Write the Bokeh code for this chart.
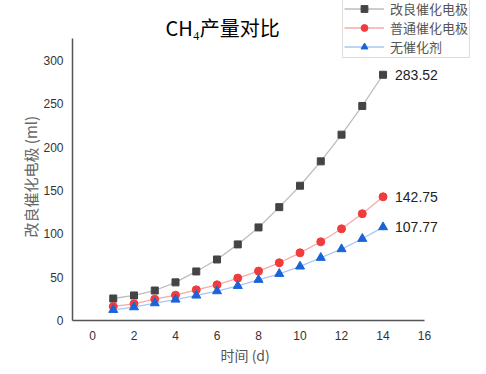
from bokeh.plotting import figure
from bokeh.models import Range1d, Legend, LegendItem, FixedTicker, Label, Title
from bokeh.embed import file_html
from bokeh.resources import INLINE
from bokeh.core.properties import value

days = list(range(1, 15))
improved = [25.4, 28.9, 34.6, 44.0, 56.6, 70.4, 87.8, 107.4, 130.8, 155.5, 183.6, 214.4, 247.5, 283.52]
normal = [16.2, 19.2, 24.6, 29.2, 35.4, 41.2, 48.9, 57.0, 66.6, 78.1, 90.8, 105.8, 123.2, 142.75]
none_cat = [12.3, 15.4, 20.0, 24.2, 28.9, 33.9, 40.0, 47.0, 53.9, 62.4, 72.4, 82.4, 94.3, 107.77]
names = ["改良催化电极", "普通催化电极", "无催化剂"]
end_labels = ["283.52", "142.75", "107.77"]
title_text = "CH₄产量对比"
x_title = "时间 (d)"
y_title = "改良催化电极 (ml)"
x_ticks = [0, 2, 4, 6, 8, 10, 12, 14, 16]
y_ticks = [0, 50, 100, 150, 200, 250, 300]

CJK = "Noto Sans CJK SC"
LAT = "Liberation Sans"

p = figure(width=486, height=374, output_backend="svg", toolbar_location=None,
           x_range=Range1d(-0.964, 18.6), y_range=Range1d(0, 369.2),
           min_border_left=72, min_border_right=8, min_border_top=0, min_border_bottom=54)
p.title.visible = False
p.grid.visible = False
p.outline_line_color = None
p.background_fill_color = "white"
p.border_fill_color = "white"

for ax in (p.xaxis[0], p.yaxis[0]):
    ax.axis_line_color = "#555555"
    ax.axis_line_width = 1.5
    ax.major_tick_line_color = None
    ax.minor_tick_line_color = None
    ax.major_tick_out = 0
    ax.major_tick_in = 0
    ax.minor_tick_out = 0
    ax.major_label_text_font = LAT
    ax.major_label_text_font_size = "12px"
    ax.major_label_text_color = "#333333"

p.xaxis.bounds = (-1, 16)
p.yaxis.bounds = (0, 325)
p.xaxis.ticker = FixedTicker(ticks=x_ticks)
p.yaxis.ticker = FixedTicker(ticks=y_ticks)
p.xaxis.major_label_standoff = 10
p.yaxis.major_label_standoff = 9

# axis titles centred on the drawn axis extent (not the whole frame)
p.add_layout(Title(text=x_title, align="left", offset=148, text_font=CJK,
                   text_font_size="14px", text_font_style="normal",
                   text_color="#555555", standoff=0), "below")
p.add_layout(Title(text=y_title, align="left", offset=83, text_font=CJK,
                   text_font_size="15px", text_font_style="normal",
                   text_color="#666666", standoff=0), "left")

p.add_layout(Label(x=6.27, y=338, text=title_text, text_align="center", text_baseline="middle",
                   text_font=CJK, text_font_size="20px", text_font_style="normal",
                   text_color="#000000"))

series = [improved, normal, none_cat]
line_colors = ["#bdbdbd", "#f7a9a9", "#a9c6f2"]
mark_colors = ["#444444", "#f03c3c", "#1a63d8"]
markers = ["square", "circle", "triangle"]
sizes = [7, 8, 9]

items = []
for vals, lc, mc, mk, sz, nm, lab in zip(series, line_colors, mark_colors, markers, sizes, names, end_labels):
    r1 = p.line(days, vals, line_color=lc, line_width=1.3)
    r2 = p.scatter(days, vals, marker=mk, size=sz, fill_color=mc, line_color=mc)
    items.append(LegendItem(label=nm, renderers=[r1, r2]))
    p.text(x=[days[-1]], y=[vals[-1]], text=[lab], x_offset=12, text_baseline="middle",
           text_align="left", text_font=value(LAT), text_font_size="14px", text_color="#222222")

legend = Legend(items=items, location=(270, 262), orientation="vertical",
                label_text_font=CJK, label_text_font_size="13px", label_text_color="#555555",
                label_height=17, label_standoff=6, glyph_width=40, glyph_height=17,
                spacing=0, padding=1, margin=0,
                border_line_color="#bbbbbb", border_line_width=1.5,
                background_fill_color="white", background_fill_alpha=1.0)
p.add_layout(legend, "center")

open("out.html", "w").write(file_html(p, INLINE))
